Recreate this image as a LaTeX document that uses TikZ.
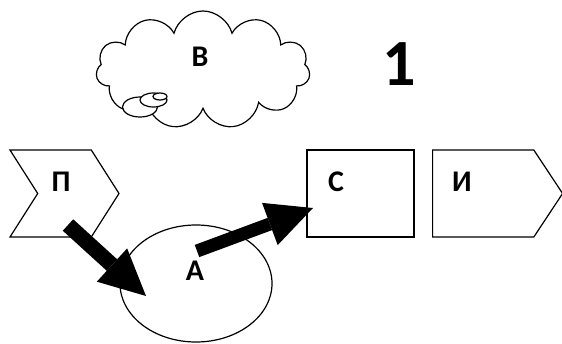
\documentclass[tikz,border=0pt]{standalone}
\usepackage{fontspec}
\setmainfont{Carlito}
\usetikzlibrary{shapes.symbols,shapes.geometric,arrows.meta}

\begin{document}
\begin{tikzpicture}[x=1pt,y=-1pt,line width=1.2pt,
    lbl/.style={font=\bfseries\fontsize{30}{30}\selectfont, inner sep=0pt},
    shp/.style={draw, fill=white, inner sep=0pt},
    blockarrow/.style={line width=14pt, -{Triangle[length=46pt,width=45pt,line width=0pt]}}]
\useasboundingbox (0,0) rectangle (562,343);
% cloud and its bubbles
\node[shp, cloud, cloud puffs=11, aspect=1.9, minimum width=214pt, minimum height=118pt] (cloud) at (203,70) {};
\draw[fill=white] (140,107) ellipse [x radius=17.5, y radius=10];
\draw[fill=white] (153.5,100) ellipse [x radius=13.5, y radius=7];
\draw[fill=white] (160,96.5) ellipse [x radius=7, y radius=3.5];
\node[lbl] (v) at (200,57) {В};
\node[font=\bfseries\fontsize{66}{66}\selectfont, inner sep=0pt] (one) at (399,64) {1};
% the row of shapes
\node[shp, signal, signal to=east, signal from=west, signal pointer angle=115,
    minimum width=109pt, minimum height=87pt] (p) at (64.5,193.5) {};
\node[lbl] (p label) at (61,182) {П};
\node[shp, ellipse, minimum width=152pt, minimum height=117pt] (a) at (196,283.5) {};
\node[lbl] (a label) at (195,271) {А};
\node[shp, rectangle, minimum width=107pt, minimum height=87pt] (c) at (360.5,193.5) {};
\node[lbl] (c label) at (336,182) {С};
\node[shp, signal, signal to=east, signal pointer angle=113, anchor=west,
    minimum width=130pt, minimum height=87pt] (i) at (432,193.5) {};
\node[lbl] (i label) at (462,182) {И};
% block arrows
\coordinate (p out) at (68,225);
\coordinate (a in) at (146,296);
\coordinate (a out) at (197,251);
\coordinate (c in) at (313,208);
\draw[blockarrow, line width=15.5pt] (p out) -- (a in);
\draw[blockarrow, line width=13pt] (a out) -- (c in);
\end{tikzpicture}
\end{document}
